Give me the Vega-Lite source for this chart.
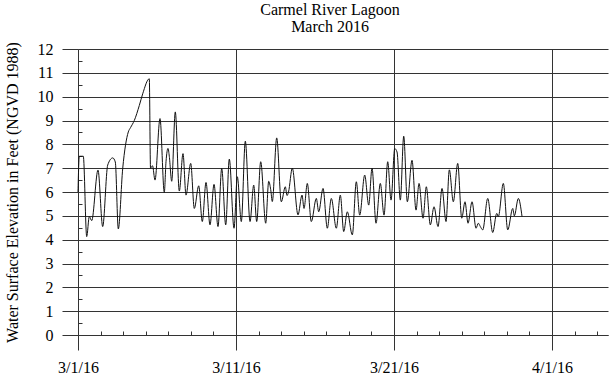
{
  "$schema": "https://vega.github.io/schema/vega-lite/v6.json",
  "autosize": {"type": "none"},
  "width": 530,
  "height": 286,
  "padding": {"left": 78, "top": 49, "right": 2, "bottom": 44},
  "background": "white",
  "config": {
    "view": {"stroke": null},
    "font": "Liberation Serif",
    "axis": {"labelFont": "Liberation Serif", "titleFont": "Liberation Serif", "labelColor": "black", "titleColor": "black"}
  },
  "title": {
    "text": ["Carmel River Lagoon", "March 2016"],
    "font": "Liberation Serif",
    "fontSize": 16,
    "fontWeight": "normal",
    "color": "black",
    "anchor": "middle",
    "dx": -13,
    "offset": 6,
    "lineHeight": 17
  },
  "data": {
    "values": [
      {"day": 0, "ft": 6.0}, {"day": 0.085, "ft": 7.5}, {"day": 0.347, "ft": 7.5}, {"day": 0.569, "ft": 4.13},
      {"day": 0.739, "ft": 4.97}, {"day": 0.896, "ft": 4.8}, {"day": 1.308, "ft": 6.92}, {"day": 1.615, "ft": 4.55},
      {"day": 1.942, "ft": 7.13}, {"day": 2.269, "ft": 7.43}, {"day": 2.439, "ft": 7.26}, {"day": 2.636, "ft": 4.45},
      {"day": 2.923, "ft": 6.98}, {"day": 3.29, "ft": 8.52}, {"day": 3.434, "ft": 8.7}, {"day": 3.682, "ft": 9.0},
      {"day": 4.009, "ft": 9.63}, {"day": 4.231, "ft": 10.12}, {"day": 4.663, "ft": 10.75}, {"day": 4.742, "ft": 7.0},
      {"day": 4.872, "ft": 7.1}, {"day": 5.036, "ft": 6.5}, {"day": 5.363, "ft": 9.08}, {"day": 5.644, "ft": 5.98},
      {"day": 5.755, "ft": 7.27}, {"day": 5.886, "ft": 7.83}, {"day": 5.971, "ft": 7.5}, {"day": 6.128, "ft": 6.45},
      {"day": 6.363, "ft": 9.36}, {"day": 6.625, "ft": 6.04}, {"day": 6.867, "ft": 7.61}, {"day": 7.063, "ft": 5.87},
      {"day": 7.371, "ft": 7.2}, {"day": 7.606, "ft": 5.31}, {"day": 7.894, "ft": 6.26}, {"day": 8.129, "ft": 4.76},
      {"day": 8.371, "ft": 6.4}, {"day": 8.633, "ft": 4.62}, {"day": 8.895, "ft": 6.32}, {"day": 9.156, "ft": 4.55},
      {"day": 9.398, "ft": 6.99}, {"day": 9.66, "ft": 4.62}, {"day": 9.895, "ft": 7.38}, {"day": 10.203, "ft": 4.48},
      {"day": 10.419, "ft": 6.64}, {"day": 10.68, "ft": 4.76}, {"day": 10.942, "ft": 8.13}, {"day": 11.249, "ft": 4.76},
      {"day": 11.491, "ft": 6.29}, {"day": 11.687, "ft": 4.76}, {"day": 11.949, "ft": 7.27}, {"day": 12.276, "ft": 4.69},
      {"day": 12.472, "ft": 6.45}, {"day": 12.603, "ft": 6.1}, {"day": 12.707, "ft": 5.6}, {"day": 12.995, "ft": 8.27},
      {"day": 13.296, "ft": 5.59}, {"day": 13.558, "ft": 6.22}, {"day": 13.669, "ft": 5.85}, {"day": 13.767, "ft": 6.0},
      {"day": 14.015, "ft": 7.0}, {"day": 14.388, "ft": 5.04}, {"day": 14.65, "ft": 5.87}, {"day": 14.781, "ft": 5.31},
      {"day": 14.996, "ft": 6.36}, {"day": 15.258, "ft": 4.76}, {"day": 15.585, "ft": 5.73}, {"day": 15.742, "ft": 5.17},
      {"day": 16.023, "ft": 6.15}, {"day": 16.305, "ft": 4.48}, {"day": 16.566, "ft": 5.73}, {"day": 16.893, "ft": 4.48},
      {"day": 17.155, "ft": 5.87}, {"day": 17.377, "ft": 4.34}, {"day": 17.612, "ft": 5.17}, {"day": 17.939, "ft": 4.2},
      {"day": 18.201, "ft": 6.43}, {"day": 18.423, "ft": 5.03}, {"day": 18.75, "ft": 6.71}, {"day": 19.012, "ft": 5.45},
      {"day": 19.228, "ft": 7.0}, {"day": 19.489, "ft": 4.69}, {"day": 19.771, "ft": 6.36}, {"day": 20.013, "ft": 5.03},
      {"day": 20.255, "ft": 7.27}, {"day": 20.471, "ft": 5.66}, {"day": 20.713, "ft": 7.82}, {"day": 20.863, "ft": 7.68},
      {"day": 21.079, "ft": 5.66}, {"day": 21.301, "ft": 8.34}, {"day": 21.537, "ft": 5.59}, {"day": 21.844, "ft": 7.33},
      {"day": 22.106, "ft": 5.24}, {"day": 22.302, "ft": 6.36}, {"day": 22.564, "ft": 4.9}, {"day": 22.779, "ft": 6.22},
      {"day": 23.041, "ft": 4.62}, {"day": 23.283, "ft": 5.38}, {"day": 23.544, "ft": 4.55}, {"day": 23.806, "ft": 6.15},
      {"day": 24.068, "ft": 4.76}, {"day": 24.284, "ft": 6.93}, {"day": 24.545, "ft": 5.59}, {"day": 24.833, "ft": 7.2},
      {"day": 25.095, "ft": 4.9}, {"day": 25.31, "ft": 5.59}, {"day": 25.506, "ft": 4.69}, {"day": 25.768, "ft": 5.59},
      {"day": 26.03, "ft": 4.48}, {"day": 26.18, "ft": 4.69}, {"day": 26.311, "ft": 4.55}, {"day": 26.468, "ft": 4.41},
      {"day": 26.795, "ft": 5.73}, {"day": 27.122, "ft": 4.3}, {"day": 27.383, "ft": 5.1}, {"day": 27.488, "ft": 4.97},
      {"day": 27.815, "ft": 6.36}, {"day": 28.103, "ft": 4.41}, {"day": 28.43, "ft": 5.31}, {"day": 28.534, "ft": 5.0},
      {"day": 28.796, "ft": 5.73}, {"day": 29.038, "ft": 4.97}
    ]
  },
  "layer": [
    {
      "mark": {"type": "line", "color": "#111111", "strokeWidth": 1, "interpolate": "monotone"},
      "encoding": {
        "x": {
          "field": "day", "type": "quantitative",
          "scale": {"domain": [0, 34.66], "nice": false, "zero": false},
          "axis": {
            "orient": "bottom",
            "values": [0, 10.3333, 20.6667, 31],
            "labelExpr": "datum.value < 1 ? '3/1/16' : datum.value < 15 ? '3/11/16' : datum.value < 25 ? '3/21/16' : '4/1/16'",
            "grid": true, "gridColor": "#333333", "gridWidth": 1, "gridOpacity": 1,
            "tickSize": 15, "tickColor": "#333333", "tickWidth": 1,
            "domainColor": "#333333", "domainWidth": 1,
            "labelFont": "Liberation Serif", "labelColor": "black",
            "labelFontSize": 16, "labelPadding": 9, "labelFlush": false,
            "title": null
          }
        },
        "y": {
          "field": "ft", "type": "quantitative",
          "scale": {"domain": [0, 12], "nice": false, "zero": true},
          "axis": {
            "orient": "left",
            "values": [0, 1, 2, 3, 4, 5, 6, 7, 8, 9, 10, 11, 12],
            "grid": true, "gridColor": "#333333", "gridWidth": 1, "gridOpacity": 1,
            "tickSize": 16, "tickColor": "#333333", "tickWidth": 1,
            "domainColor": "#333333", "domainWidth": 1,
            "labelFont": "Liberation Serif", "labelColor": "black",
            "labelFontSize": 16, "labelPadding": 9,
            "title": "Water Surface Elevation in Feet (NGVD 1988)",
            "titleFont": "Liberation Serif", "titleColor": "black",
            "titleFontSize": 16, "titleFontWeight": "normal", "titlePadding": 17
          }
        }
      }
    },
    {
      "mark": {"type": "line", "opacity": 0},
      "encoding": {
        "x": {
          "field": "day", "type": "quantitative",
          "axis": {
            "orient": "bottom",
            "values": [1.4762, 2.9524, 4.4286, 5.9048, 7.381, 8.8571, 11.8095, 13.2857, 14.7619, 16.2381, 17.7143, 19.1905, 22.1429, 23.619, 25.0952, 26.5714, 28.0476, 29.5238, 32.4762, 33.9524],
            "labels": false, "grid": false, "domain": false,
            "tickSize": -4, "tickColor": "#333333", "tickWidth": 1,
            "title": null
          }
        },
        "y": {
          "field": "ft", "type": "quantitative",
          "axis": {
            "orient": "left",
            "values": [0.5, 1.5, 2.5, 3.5, 4.5, 5.5, 6.5, 7.5, 8.5, 9.5, 10.5, 11.5],
            "labels": false, "grid": false, "domain": false,
            "tickSize": -4, "tickColor": "#333333", "tickWidth": 1,
            "title": null
          }
        }
      }
    }
  ],
  "resolve": {"axis": {"x": "independent", "y": "independent"}}
}
